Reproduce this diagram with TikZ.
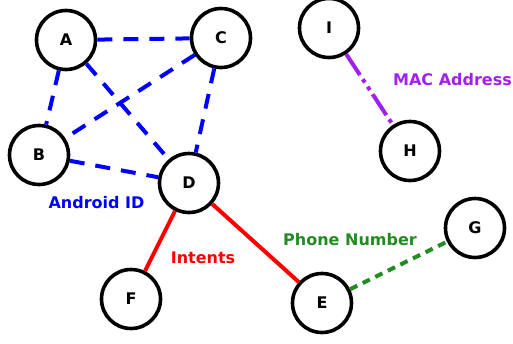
\documentclass[tikz,border=0pt]{standalone}
\usepackage{fontspec}
\setmainfont{DejaVu Sans}
\definecolor{mpurple}{HTML}{A020F0}
\definecolor{mgreen}{HTML}{228B22}
\begin{document}
\begin{tikzpicture}[x=1pt,y=-1pt,
  vertex/.style={circle,draw=black,line width=3.6pt,minimum size=59pt,inner sep=0pt,fill=white,font=\fontsize{16}{16}\selectfont\bfseries},
  blueedge/.style={draw=blue,line width=4pt,dash pattern=on 15pt off 11pt},
  rededge/.style={draw=red,line width=4pt},
  greenedge/.style={draw=mgreen,line width=4pt,dash pattern=on 8pt off 6pt},
  purpleedge/.style={draw=mpurple,line width=4pt,dash pattern=on 25pt off 5pt on 4pt off 5pt on 4pt off 5pt},
  elabel/.style={font=\fontsize{16}{16}\selectfont\bfseries,inner sep=0pt}]
\useasboundingbox (0,0) rectangle (513,343);
\node[vertex] (A) at (66,40) {A};
\node[vertex] (C) at (221,38) {C};
\node[vertex] (B) at (39,155) {B};
\node[vertex] (D) at (189,183) {D};
\node[vertex] (I) at (329,28) {I};
\node[vertex] (H) at (410,151) {H};
\node[vertex] (G) at (475,228) {G};
\node[vertex] (E) at (322,303) {E};
\node[vertex] (F) at (131,299) {F};
\begin{scope}[on background layer/.try]
\end{scope}
\path[blueedge] (A) -- (C);
\path[blueedge] (A) -- (B);
\path[blueedge] (A) -- (D);
\path[blueedge] (C) -- (B);
\path[blueedge] (C) -- (D);
\path[blueedge] (B) -- (D);
\path[rededge] (D) -- (F);
\path[rededge] (D) -- (E);
\path[greenedge] (E) -- (G);
\path[purpleedge] (I) -- (H);
\node[elabel,text=blue] (lab1) at (96.5,203) {Android ID};
\node[elabel,text=mpurple] (lab2) at (452.5,80) {MAC Address};
\node[elabel,text=red] (lab3) at (203,258) {Intents};
\node[elabel,text=mgreen] (lab4) at (350,239.5) {Phone Number};
\end{tikzpicture}
\end{document}
